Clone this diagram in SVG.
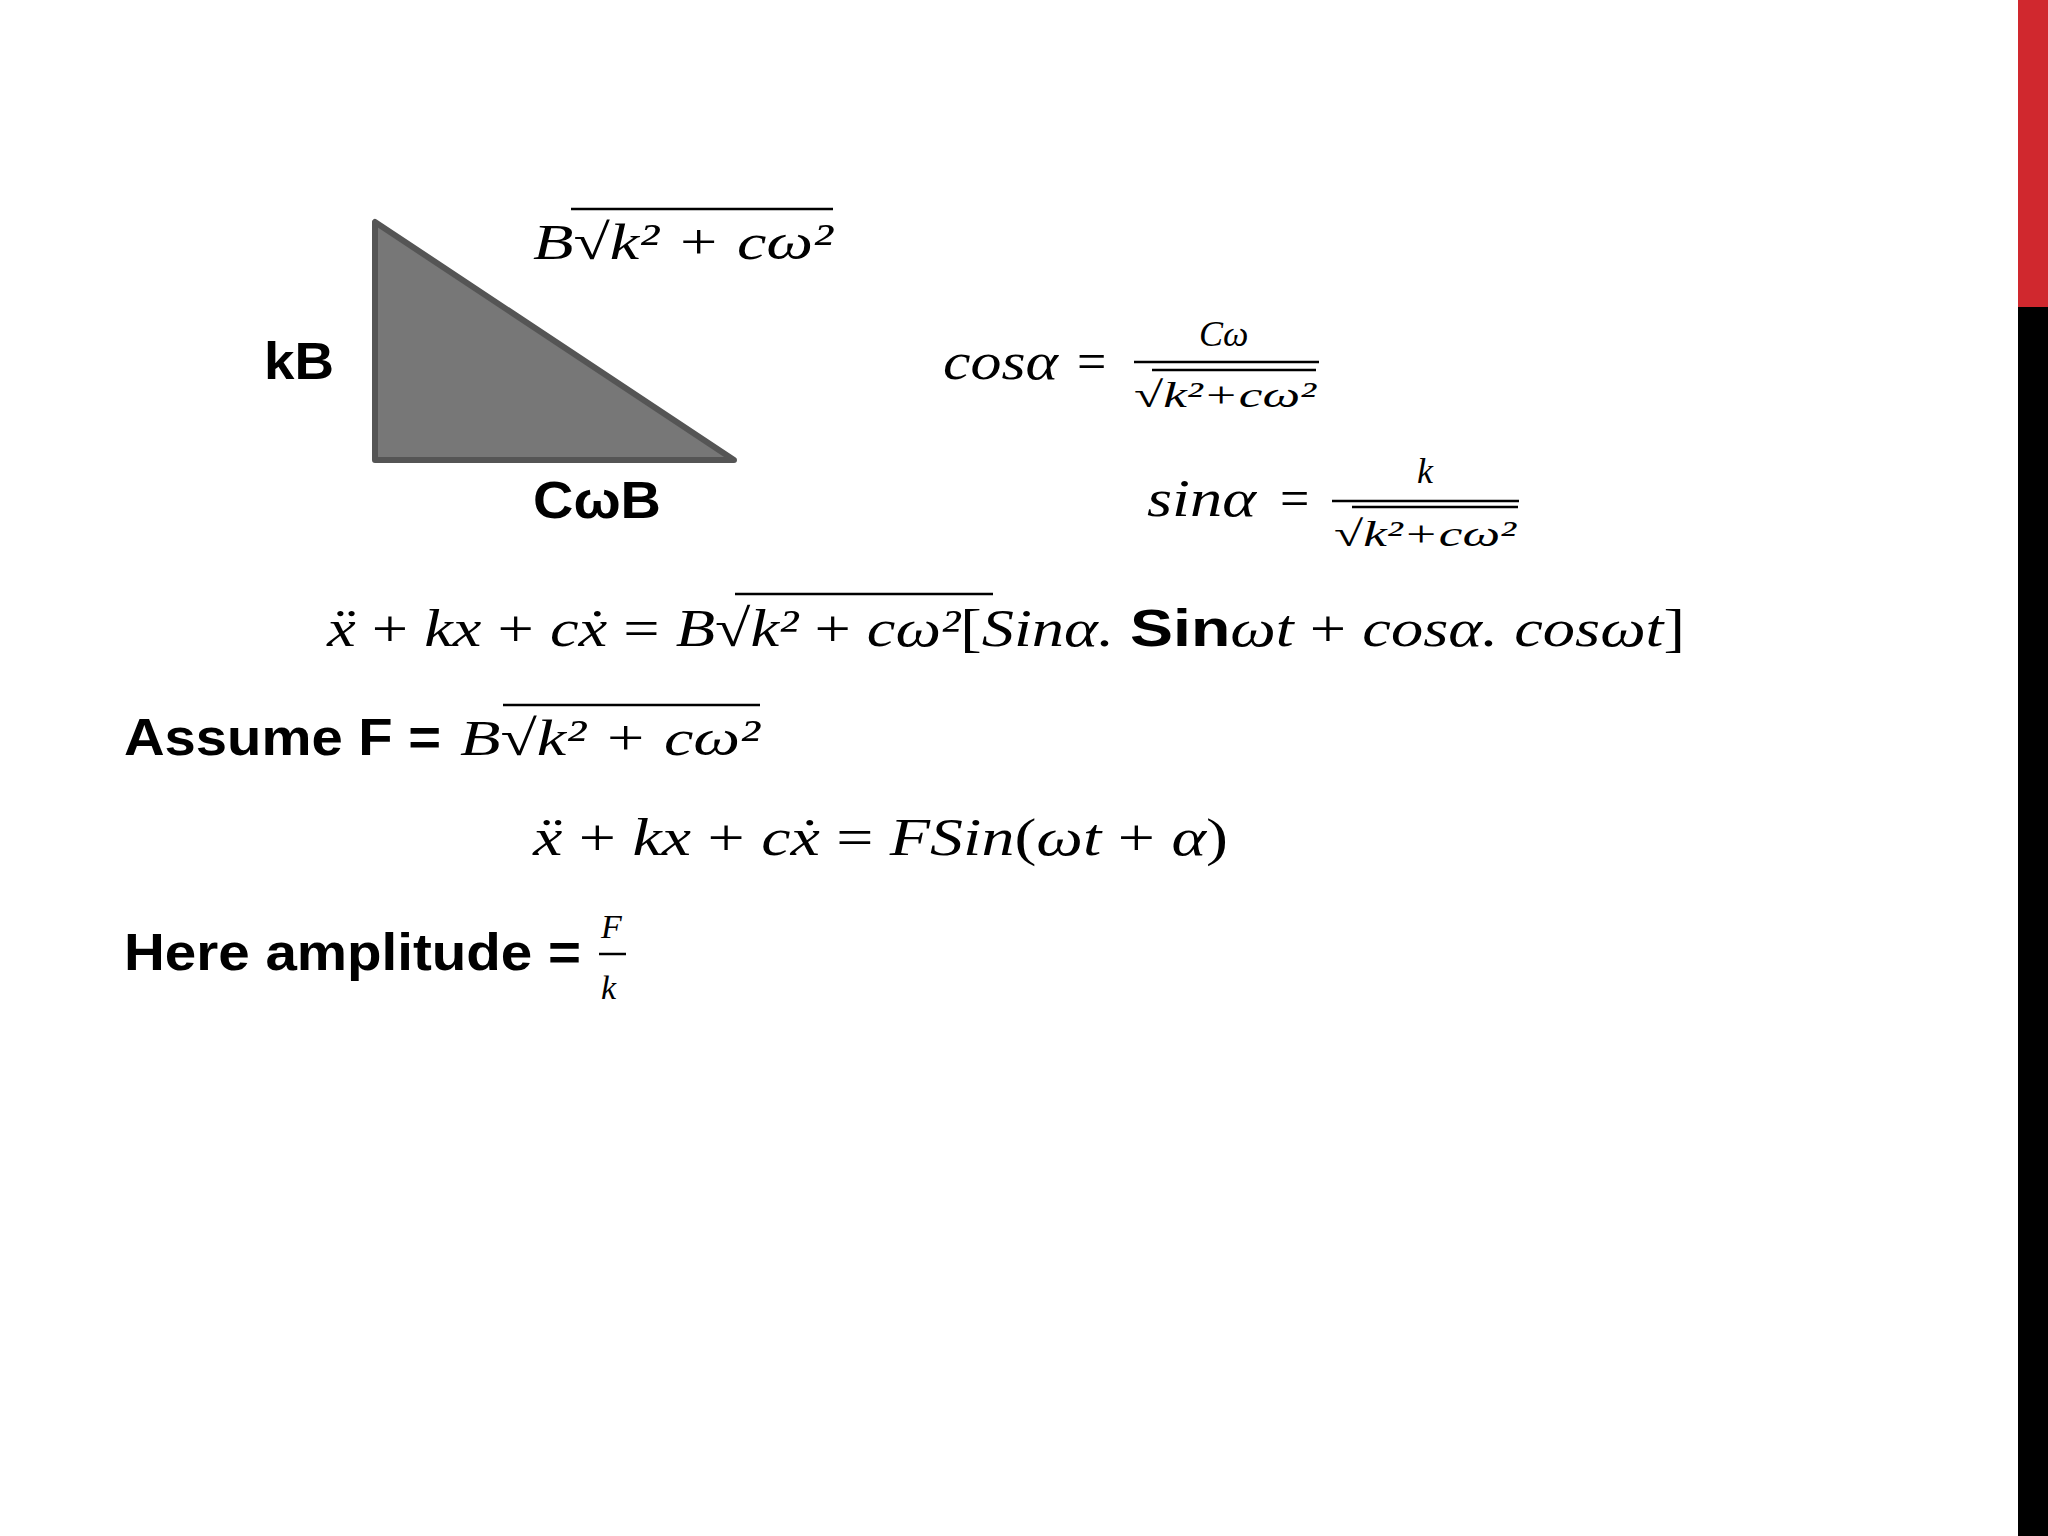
<svg xmlns="http://www.w3.org/2000/svg" width="2048" height="1536" viewBox="0 0 2048 1536">
<style>
.m{font-family:"Liberation Serif","DejaVu Serif",serif;font-style:italic;fill:#000}
.u{font-style:normal}
.b{font-family:"Liberation Sans",Arial,sans-serif;font-weight:bold;fill:#000}
.ln{stroke:#000;stroke-width:2.5}
</style>
<rect width="2048" height="1536" fill="#fff"/>
<rect x="2018" y="0" width="30" height="307" fill="#d0282e"/>
<rect x="2018" y="307" width="30" height="1229" fill="#000"/>
<g id="triangle">
<polygon points="375,222 375,460 734,460" fill="#777" stroke="#555" stroke-width="6" stroke-linejoin="round"/>
</g>
<g id="labels">
<text class="b" x="264" y="379" font-size="52" textLength="70" lengthAdjust="spacingAndGlyphs">kB</text>
<text class="b" x="533" y="518" font-size="52" textLength="128" lengthAdjust="spacingAndGlyphs">CωB</text>
<text class="m" x="533" y="259" font-size="50" textLength="300" lengthAdjust="spacingAndGlyphs">B<tspan class="u">√</tspan>k² + cω²</text>
<line class="ln" x1="571" y1="209" x2="833" y2="209"/>
</g>
<g id="cos">
<text class="m" x="943" y="379" font-size="52" textLength="115" lengthAdjust="spacingAndGlyphs">cosα</text>
<text class="m u" x="1077" y="379" font-size="52">=</text>
<text class="m" x="1199" y="346" font-size="36">Cω</text>
<line class="ln" x1="1134" y1="362" x2="1319" y2="362" stroke-width="3"/>
<text class="m" x="1134" y="407" font-size="36" textLength="182" lengthAdjust="spacingAndGlyphs"><tspan class="u">√</tspan>k²+cω²</text>
<line class="ln" x1="1152" y1="370" x2="1316" y2="370" stroke-width="2"/>
</g>
<g id="sin">
<text class="m" x="1147" y="516" font-size="52" textLength="109" lengthAdjust="spacingAndGlyphs">sinα</text>
<text class="m u" x="1280" y="516" font-size="52">=</text>
<text class="m" x="1417" y="483" font-size="36">k</text>
<line class="ln" x1="1332" y1="501" x2="1519" y2="501" stroke-width="3"/>
<text class="m" x="1334" y="546" font-size="36" textLength="182" lengthAdjust="spacingAndGlyphs"><tspan class="u">√</tspan>k²+cω²</text>
<line class="ln" x1="1352" y1="507" x2="1518" y2="507" stroke-width="2"/>
</g>
<g id="eq1">
<text class="m" x="327" y="646" font-size="52" textLength="1358" lengthAdjust="spacingAndGlyphs">ẍ <tspan class="u">+</tspan> kx <tspan class="u">+</tspan> cẋ <tspan class="u">=</tspan> B<tspan class="u">√</tspan>k² <tspan class="u">+</tspan> cω²<tspan class="u">[</tspan>Sinα. <tspan class="b" font-style="normal">Sin</tspan>ωt <tspan class="u">+</tspan> cosα. cosωt<tspan class="u">]</tspan></text>
<line class="ln" x1="735" y1="594" x2="993" y2="594"/>
</g>
<g id="assume">
<text class="b" x="124" y="755" font-size="52" textLength="317" lengthAdjust="spacingAndGlyphs">Assume F =</text>
<text class="m" x="460" y="755" font-size="50" textLength="300" lengthAdjust="spacingAndGlyphs">B<tspan class="u">√</tspan>k² + cω²</text>
<line class="ln" x1="503" y1="705" x2="760" y2="705"/>
</g>
<g id="eq2">
<text class="m" x="533" y="855" font-size="52" textLength="695" lengthAdjust="spacingAndGlyphs">ẍ <tspan class="u">+</tspan> kx <tspan class="u">+</tspan> cẋ <tspan class="u">=</tspan> FSin<tspan class="u">(</tspan>ωt <tspan class="u">+</tspan> α<tspan class="u">)</tspan></text>
</g>
<g id="amp">
<text class="b" x="124" y="970" font-size="52" textLength="457" lengthAdjust="spacingAndGlyphs">Here amplitude =</text>
<text class="m" x="601" y="938" font-size="34">F</text>
<line class="ln" x1="599" y1="954" x2="626" y2="954" stroke-width="3"/>
<text class="m" x="601" y="999" font-size="34">k</text>
</g>
</svg>
